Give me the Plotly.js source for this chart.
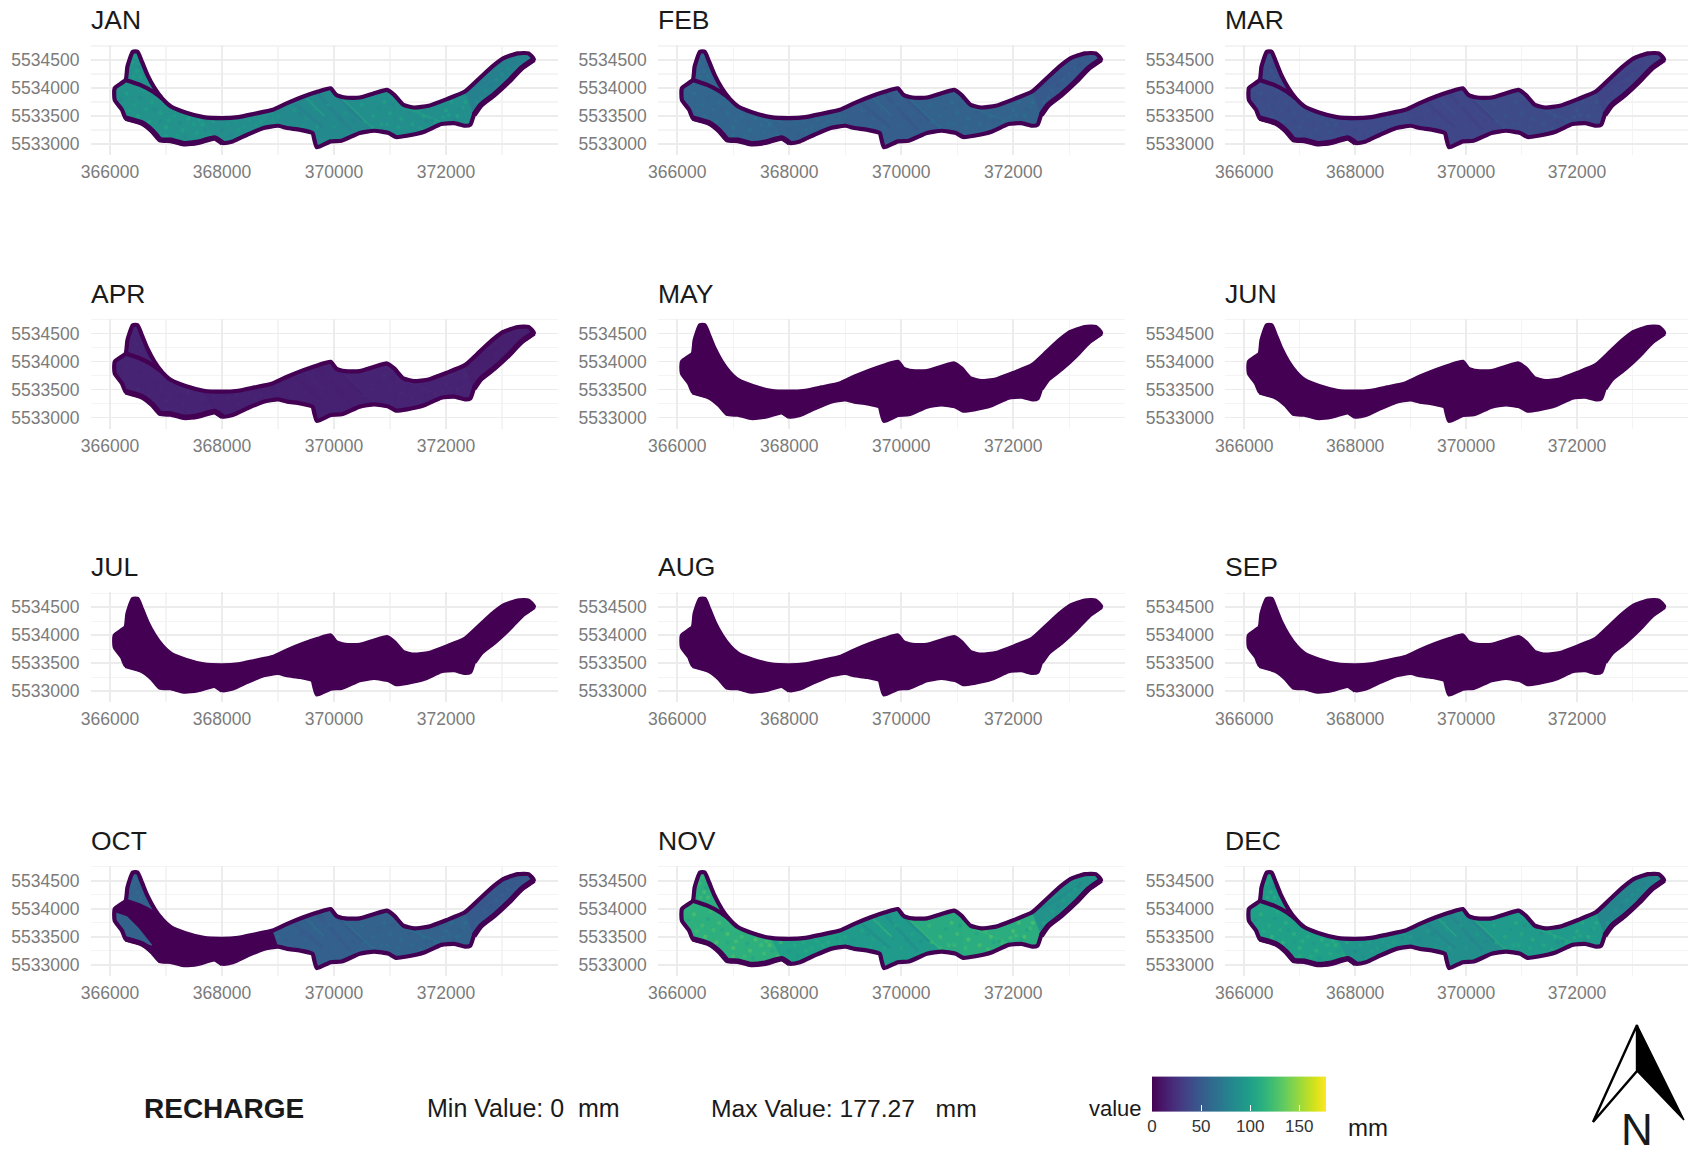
<!DOCTYPE html>
<html><head><meta charset="utf-8">
<script src="https://cdn.plot.ly/plotly-3.0.1.min.js"></script>
<style>html,body{margin:0;padding:0;background:#fff}</style></head>
<body><div id="chart" style="width:1688px;height:1156px"></div>
<script>
const months = ['JAN','FEB','MAR','APR','MAY','JUN','JUL','AUG','SEP','OCT','NOV','DEC'];
const minValue = 0, maxValue = 177.27;
const xTickVals = [366000,368000,370000,372000];
const yTickVals = [5533000,5533500,5534000,5534500];

// catchment outline (clockwise from the northern tip)
const outlineX = [366408,366493,366570,366668,366797,366927,367089,367348,367672,367996,368288,368579,368903,369163,369454,369714,369940,370038,370200,370459,370718,370945,371075,371237,371431,371690,372014,372338,372598,372824,373019,373278,373473,373570,373343,373116,372857,372630,372500,372436,372338,372144,371917,371625,371301,371107,370977,370718,370459,370135,369940,369694,369649,369616,369390,369163,369001,368741,368450,368191,368009,367866,367575,367316,367089,366894,366765,366570,366279,366214,366084,366084,366279,366311,366408];
const outlineY = [5534649,5534649,5534471,5534234,5533996,5533818,5533670,5533563,5533480,5533463,5533480,5533540,5533611,5533730,5533848,5533937,5533996,5533878,5533830,5533830,5533907,5533967,5533878,5533700,5533652,5533682,5533801,5533937,5534174,5534382,5534530,5534619,5534619,5534512,5534352,5534115,5533878,5533700,5533522,5533344,5533326,5533374,5533356,5533225,5533148,5533125,5533196,5533237,5533196,5533059,5533047,5532941,5533077,5533196,5533255,5533285,5533326,5533285,5533166,5533047,5533018,5533107,5533030,5533006,5533065,5533077,5533225,5533374,5533463,5533611,5533789,5533996,5534145,5534382,5534649];
// inner boundary between the northern lobe and the main body
const dividerX = [366279,366538,366765,366927];
const dividerY = [5534145,5534056,5533937,5533818];
// western sliver visible in OCT
const sliverX = [366089,366298,366506,366744,366536,366298,366179,366089];
const sliverY = [5533929,5533857,5533650,5533352,5533441,5533471,5533650,5533768];

// recharge zones as outline index ranges [north from,to, south from,to]
const zoneNames = ['tip','west','sliver','westMid','mid','centre','east','arm'];
const zoneRanges = {westMid:[8,12,56,61], mid:[12,16,47,56], centre:[16,22,45,47], east:[22,27,38,45], arm:[27,33,33,38]};
// stretches of the outline where the border reads thicker
const thickRuns = [[33,38],[60,68]];

// mm per zone per month
const JAN = [90,90,90,87,84,88,88,78];
const FEB = [58,58,58,56,53,56,56,50];
const MAR = [42,42,42,40,38,41,41,37];
const APR = [17,17,17,16,16,17,17,15];
const MAY = [0,0,0,0,0,0,0,0];
const JUN = [0,0,0,0,0,0,0,0];
const JUL = [0,0,0,0,0,0,0,0];
const AUG = [0,0,0,0,0,0,0,0];
const SEP = [0,0,0,0,0,0,0,0];
const OCT = [56,0,56,0,54,56,56,50];
const NOV = [110,112,112,100,96,108,110,90];
const DEC = [98,100,100,92,88,96,96,82];
const monthValues = [JAN,FEB,MAR,APR,MAY,JUN,JUL,AUG,SEP,OCT,NOV,DEC];

// brighter texture
const speckX = [366300,366450,366600,366500,366750,366900,367000,367150,367300,367400,367550,367650,367200,366700,367800,368100,368300,368500,368700,368250,369000,369300,369500,369700,369900,369600,370000,370200,370500,370700,370900,370950,370700,371000,371200,371400,371600,371800,372000,372200,372100,371500,372350,372700,372900,373100,372550,366400,366480,366420,366550,
 366200,366350,366550,366650,366800,367050,367250,367500,367700,367850,367350,367000,366900,367600,368000,368400,368150,368600,368850,369150,369400,369650,369850,370100,369450,369800,370350,370550,370800,370850,371050,371150,371350,371550,371750,371950,372150,372300,371650,372050,372250,372620,372800,373000,373200,366450,366520];
const speckY = [5533900,5533700,5533950,5533500,5533750,5533550,5533300,5533500,5533250,5533450,5533200,5533350,5533150,5533400,5533150,5533350,5533250,5533420,5533400,5533400,5533500,5533600,5533450,5533300,5533700,5533750,5533300,5533550,5533700,5533500,5533750,5533350,5533300,5533550,5533450,5533350,5533500,5533400,5533600,5533500,5533750,5533600,5533750,5533950,5534150,5534350,5533750,5534450,5534300,5534200,5534200,
 5533800,5533600,5533820,5533620,5533620,5533420,5533380,5533350,5533250,5533400,5533120,5533150,5533400,5533420,5533240,5533300,5533150,5533340,5533480,5533440,5533540,5533620,5533480,5533450,5533320,5533850,5533420,5533400,5533640,5533350,5533700,5533300,5533560,5533280,5533420,5533480,5533450,5533650,5533400,5533520,5533620,5533820,5534050,5534250,5534450,5534550,5534380];
const speckZone = [1,1,1,1,1,1,1,1,1,1,1,1,1,1,1,3,3,3,3,3,4,4,4,4,4,4,4,4,5,5,5,5,5,5,6,6,6,6,6,6,6,6,6,7,7,7,7,0,0,0,0,
 1,1,1,1,1,1,1,1,1,1,1,1,1,1,3,3,3,3,3,4,4,4,4,4,4,4,4,5,5,5,5,6,6,6,6,6,6,6,6,6,6,7,7,7,7,0,0];
const speckGain = [1.16,1.12,1.1,1.18,1.14,1.17,1.18,1.12,1.16,1.18,1.12,1.16,1.1,1.18,1.12,1.1,1.12,1.08,1.12,1.1,1.12,1.1,1.08,1.1,1.12,1.12,1.1,1.1,1.12,1.16,1.18,1.12,1.1,1.16,1.18,1.16,1.18,1.14,1.18,1.2,1.16,1.12,1.18,1.12,1.12,1.12,1.18,1.12,1.16,1.12,1.16,
 0.94,1.1,0.92,1.12,0.94,1.14,0.92,1.12,0.94,1.1,0.92,1.12,0.94,1.12,0.92,1.1,0.94,1.1,0.92,0.94,0.92,1.08,0.94,0.92,1.08,0.94,0.92,1.1,0.94,1.12,0.92,1.12,0.94,1.14,0.92,1.14,0.94,1.12,0.92,1.14,0.94,1.08,0.92,1.1,0.94,1.1,0.94];
const brightStreaks = [[370005,5533940,370720,5533260],[369500,5533820,369850,5533480],[371300,5533640,371900,5533400]];
const darkStreaks = [[369700,5533900,370300,5533250],[369300,5533720,369800,5533300],[370050,5533850,370500,5533420],[372500,5534000,373200,5534420]];

const ink = '#440154', grid = '#ececec', gridMinor = '#f4f4f4', tickGrey = '#7b7b7b', textDark = '#1a1a1a';
const W = 1688, H = 1156;
const stops = ['#440154','#482878','#3e4989','#31688e','#26828e','#1f9e89','#35b779','#6ece58','#b5de2b','#fde725'];
function viridis(v){
  const t = Math.max(0,Math.min(1,v/maxValue))*(stops.length-1), i = Math.min(stops.length-2,Math.floor(t)), f = t-i;
  const c = s => [1,3,5].map(k=>parseInt(s.substr(k,2),16));
  const a = c(stops[i]), b = c(stops[i+1]);
  return 'rgb('+a.map((n,k)=>Math.round(n+(b[k]-n)*f)).join(',')+')';
}
const px = x => x/W, py = y => 1-y/H;

function zonePolygon(name){
  if(name==='tip'){
    const north = [72,73,0,1,2,3,4,5];
    return {x: north.map(i=>outlineX[i]).concat(dividerX.slice().reverse()), y: north.map(i=>outlineY[i]).concat(dividerY.slice().reverse())};
  }
  if(name==='sliver') return {x:sliverX.concat(sliverX[0]), y:sliverY.concat(sliverY[0])};
  if(name==='west'){
    const idx = [5,6,7,8,61,62,63,64,65,66,67,68,69,70,71,72];
    return {x: idx.map(i=>outlineX[i]).concat(dividerX.slice(1)), y: idx.map(i=>outlineY[i]).concat(dividerY.slice(1))};
  }
  const r = zoneRanges[name], idx = [];
  for(let i=r[0];i<=r[1];i++) idx.push(i);
  for(let i=r[2];i<=r[3];i++) idx.push(i);
  return {x: idx.map(i=>outlineX[i]), y: idx.map(i=>outlineY[i])};
}
function joinSegs(list,k){const o=[];list.forEach(s=>{o.push(s[k],s[k+2],null)});return o;}

const traces = [], annotations = [], shapes = [];
const layout = {width:W,height:H,margin:{l:0,r:0,t:0,b:0},paper_bgcolor:'#fff',plot_bgcolor:'#fff',showlegend:false,hovermode:false,
  font:{family:'"Liberation Sans",Arial,sans-serif'}};
const panelW = 467, panelH = 110, colStep = 567.2, rowStep = 273.6, left0 = 91, top0 = 45;

months.forEach((m,k)=>{
  const col = k%3, row = Math.floor(k/3), n = k+1, sfx = n===1?'':String(n);
  const L = left0+col*colStep, T = top0+row*rowStep;
  layout['xaxis'+sfx] = {domain:[px(L),px(L+panelW)],anchor:'y'+sfx,range:[365661,374000],tickvals:xTickVals,ticktext:xTickVals.map(String),
    ticks:'outside',ticklen:1,tickcolor:'rgba(0,0,0,0)',tickfont:{size:17.5,color:tickGrey},showline:false,zeroline:false,
    showgrid:true,gridcolor:grid,gridwidth:1.6,minor:{tick0:365000,dtick:1000,showgrid:true,gridcolor:gridMinor,gridwidth:1.2,ticklen:0}};
  layout['yaxis'+sfx] = {domain:[py(T+panelH),py(T)],anchor:'x'+sfx,range:[5532804,5534768],tickvals:yTickVals,ticktext:yTickVals.map(String),
    ticks:'outside',ticklen:7,tickcolor:'rgba(0,0,0,0)',tickfont:{size:17.5,color:tickGrey},showline:false,zeroline:false,
    showgrid:true,gridcolor:grid,gridwidth:1.6,minor:{tick0:5532750,dtick:500,showgrid:true,gridcolor:gridMinor,gridwidth:1.2,ticklen:0}};
  annotations.push({xref:'paper',yref:'paper',x:px(L-2),y:py(T-25),xanchor:'left',yanchor:'middle',text:m,showarrow:false,font:{size:26.5,color:textDark}});

  const vals = monthValues[k], ax = {xaxis:'x'+sfx,yaxis:'y'+sfx};
  traces.push(Object.assign({type:'scatter',mode:'lines',x:outlineX,y:outlineY,fill:'toself',fillcolor:viridis(vals[4]),line:{width:1,color:ink,shape:'spline',smoothing:0.5}},ax));
  zoneNames.forEach((z,zi)=>{
    const p = zonePolygon(z);
    traces.push(Object.assign({type:'scatter',mode:'lines',x:p.x,y:p.y,fill:'toself',fillcolor:viridis(vals[zi]),line:{width:1.2,color:viridis(vals[zi])}},ax));
  });
  const refv = vals[4];
  if(refv>0){
    traces.push(Object.assign({type:'scatter',mode:'lines',x:joinSegs(darkStreaks,0),y:joinSegs(darkStreaks,1),line:{width:3,color:viridis(refv*0.88)},opacity:0.45},ax));
    traces.push(Object.assign({type:'scatter',mode:'lines',x:joinSegs(brightStreaks,0),y:joinSegs(brightStreaks,1),line:{width:1.6,color:viridis(refv*1.22)},opacity:0.75},ax));
  }
  const speckVals = speckX.map((_,i)=>vals[speckZone[i]]*speckGain[i]);
  const mk = {size:4.2,opacity:speckVals.map(v=>v>0?0.6:0),color:speckVals,colorscale:'Viridis',cmin:minValue,cmax:maxValue,showscale:false,line:{width:0}};
  if(k===0){
    mk.showscale = true;
    mk.colorbar = {orientation:'h',x:px(1152),xanchor:'left',y:py(1143),yanchor:'bottom',len:174,lenmode:'pixels',thickness:35,thicknessmode:'pixels',
      xpad:0,ypad:0,outlinewidth:0,tickvals:[0,50,100,150],ticks:'inside',ticklen:6,tickcolor:'#fff',tickwidth:1,tickfont:{size:17,color:'#333'}};
  }
  traces.push(Object.assign({type:'scatter',mode:'markers',x:speckX,y:speckY,marker:mk},ax));
  traces.push(Object.assign({type:'scatter',mode:'lines',x:outlineX,y:outlineY,line:{width:4.2,color:ink,shape:'spline',smoothing:0.5}},ax));
  thickRuns.forEach(r=>{
    traces.push(Object.assign({type:'scatter',mode:'lines',x:outlineX.slice(r[0],r[1]+1),y:outlineY.slice(r[0],r[1]+1),line:{width:5.6,color:ink,shape:'spline',smoothing:0.5}},ax));
  });
  traces.push(Object.assign({type:'scatter',mode:'lines',x:dividerX,y:dividerY,line:{width:4.2,color:ink,shape:'spline',smoothing:0.5}},ax));
});

const label = (t,x,y,size,extra) => annotations.push(Object.assign({xref:'paper',yref:'paper',x:px(x),y:py(y),xanchor:'left',yanchor:'middle',text:t,showarrow:false,font:{size:size,color:textDark}},extra||{}));
label('<b>RECHARGE</b>',142,1108,28);
label('Min Value: 0&nbsp;&nbsp;mm',425,1108,25);
label('Max Value: 177.27&nbsp;&nbsp;&nbsp;mm',709,1108,24.7);
label('value',1087,1108,22);
label('mm',1346,1127,24);
label('N',1637,1129,44,{xanchor:'center'});

const P = (x,y)=>px(x).toFixed(5)+','+py(y).toFixed(5);
shapes.push({type:'path',xref:'paper',yref:'paper',path:'M'+P(1637,1025)+' L'+P(1593,1122)+' L'+P(1637,1071)+' Z',fillcolor:'#fff',line:{color:'#000',width:2.4}});
shapes.push({type:'path',xref:'paper',yref:'paper',path:'M'+P(1637,1025)+' L'+P(1684,1120)+' L'+P(1637,1071)+' Z',fillcolor:'#000',line:{color:'#000',width:1.5}});
layout.annotations = annotations; layout.shapes = shapes;
Plotly.newPlot('chart',traces,layout,{displayModeBar:false,staticPlot:true});
</script></body></html>
